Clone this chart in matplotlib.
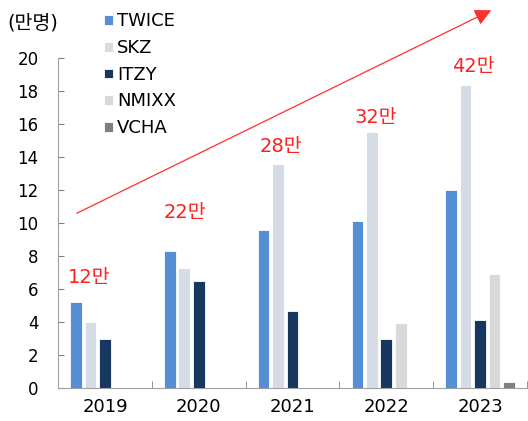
import matplotlib
matplotlib.use("Agg")
import matplotlib.pyplot as plt
import numpy as np

plt.rcParams["font.family"] = ["DejaVu Sans", "Noto Sans CJK KR"]

years = ["2019", "2020", "2021", "2022", "2023"]
seriesNames = ["TWICE", "SKZ", "ITZY", "NMIXX", "VCHA"]
twice = [5.2, 8.3, 9.6, 10.1, 12.0]
skz = [4.0, 7.3, 13.6, 15.5, 18.4]
itzy = [3.0, 6.5, 4.7, 3.0, 4.1]
nmixx = [0, 0, 0, 3.95, 6.9]
vcha = [0, 0, 0, 0, 0.35]
totals = ["12만", "22만", "28만", "32만", "42만"]

# where the red total labels sit (category offset, y value)
labelPos = [(-0.17, 6.7), (-0.15, 10.65), (-0.12, 14.65), (-0.11, 16.4), (-0.07, 19.5)]

colors = ["#558ed5", "#d6dce5", "#17375e", "#d9d9d9", "#7f7f7f"]

fig = plt.figure(figsize=(5.28, 4.21), dpi=100)
ax = fig.add_axes([0.11, 0.078, 0.888, 0.784])

x = np.arange(len(years))
step = 0.154
width = 0.125
allSeries = [twice, skz, itzy, nmixx, vcha]
for i, (name, vals) in enumerate(zip(seriesNames, allSeries)):
    ax.bar(x + (i - 2) * step, vals, width=width, color=colors[i], label=name,
           edgecolor="white", linewidth=0.6)

for i, t in enumerate(totals):
    dx, ty = labelPos[i]
    ax.text(x[i] + dx, ty, t, color="#ff2020", fontsize=14,
            ha="center", va="center")

# trend arrow
ax.annotate("", xy=(4.12, 22.9), xytext=(-0.3, 10.6),
            arrowprops=dict(arrowstyle="-|>,head_length=1.0,head_width=0.5",
                            color="#ff3030", lw=0.9, shrinkA=0, shrinkB=0),
            annotation_clip=False)

ax.set_xlim(-0.5, 4.5)
ax.set_ylim(0, 20)
ax.set_yticks(range(0, 21, 2))
ax.set_xticks(x)
ax.set_xticklabels(years, fontsize=13)
ax.set_xticks(np.arange(-0.5, 4.6, 1), minor=True)
ax.tick_params(axis="x", which="major", length=0, pad=7)
ax.tick_params(axis="x", which="minor", direction="in", length=5, color="#808080")
ax.tick_params(axis="y", direction="in", length=4, color="#808080", labelsize=12, pad=14)
for s in ["top", "right"]:
    ax.spines[s].set_visible(False)
for s in ["left", "bottom"]:
    ax.spines[s].set_color("#a0a0a0")

fig.text(0.014, 0.945, "(만명)", fontsize=14, ha="left", va="center")

leg = ax.legend(loc="upper left", bbox_to_anchor=(0.167, 1.009),
                bbox_transform=fig.transFigure, frameon=False,
                fontsize=13, handlelength=0.45, handleheight=0.45,
                handletextpad=0.25, labelspacing=0.48)

fig.savefig("out.png", dpi=100)
